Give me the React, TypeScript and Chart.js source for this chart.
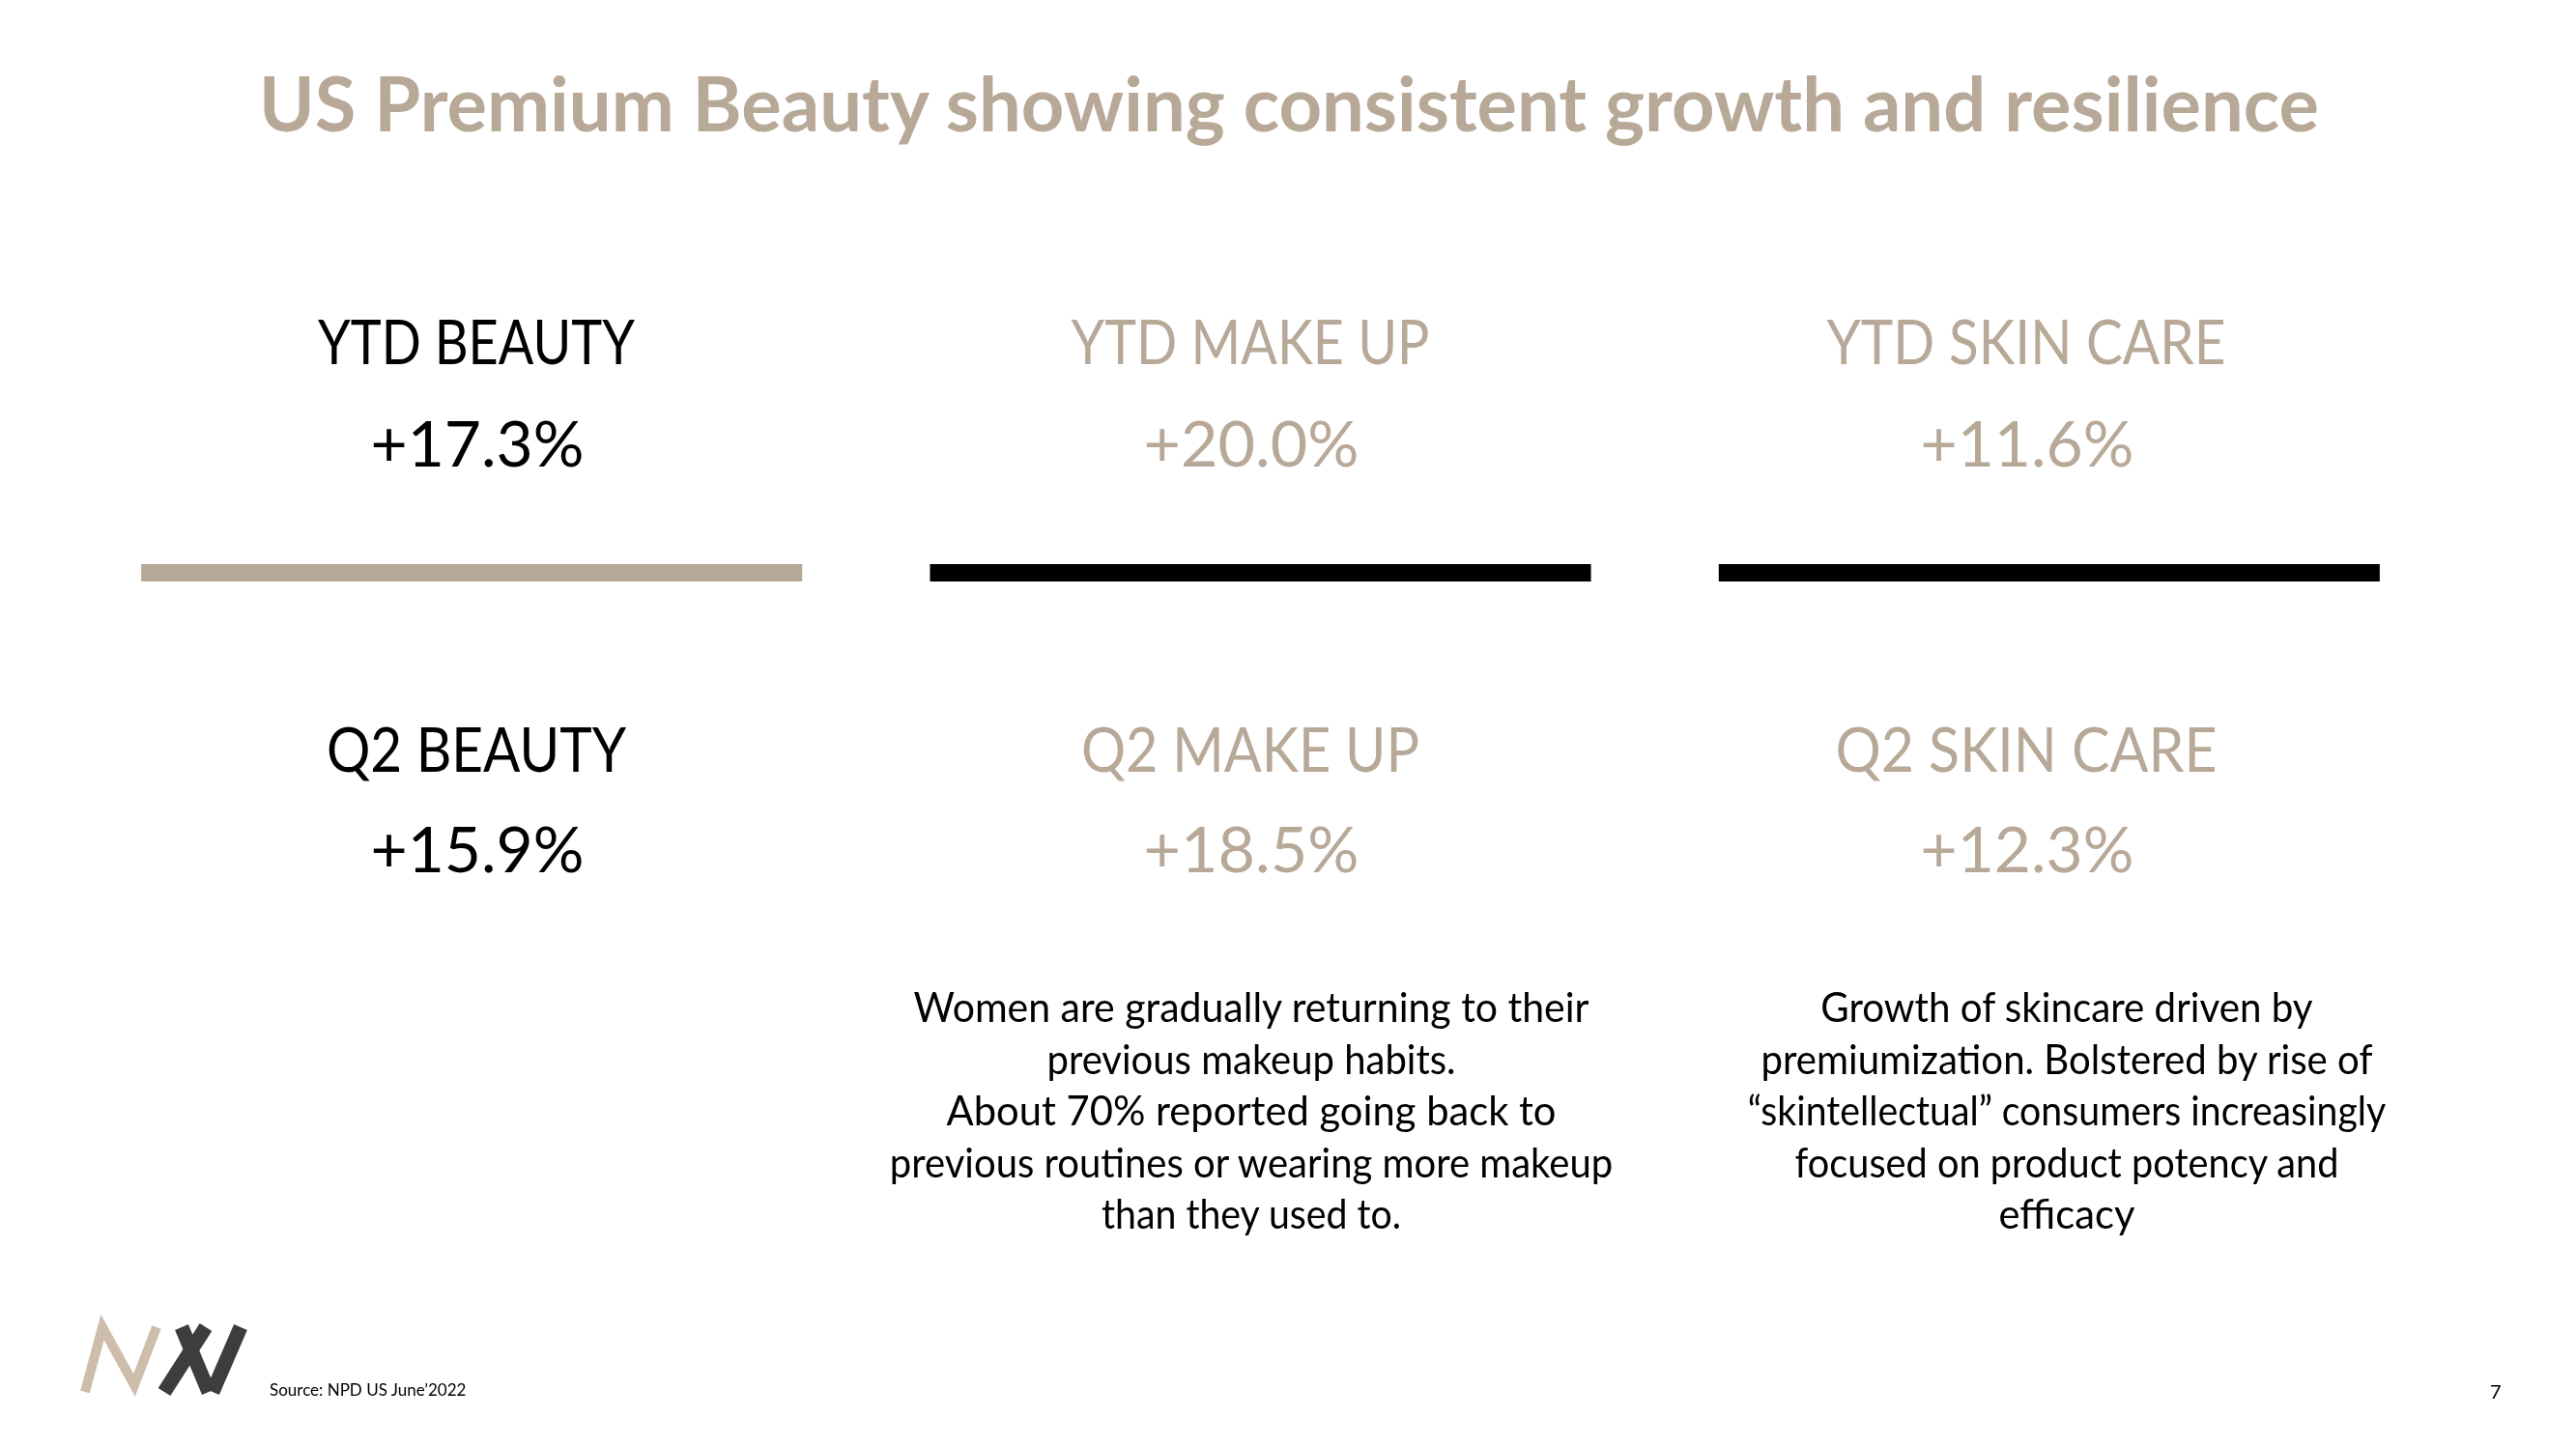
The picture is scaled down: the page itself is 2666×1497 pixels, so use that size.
import React, { useEffect, useRef } from "react";
import { Chart, registerables } from "chart.js";

Chart.register(...registerables);

// ---------- DATA ----------
const TITLE = "US Premium Beauty showing consistent growth and resilience";
const SEGMENTS = ["BEAUTY", "MAKE UP", "SKIN CARE"];
const YTD_LABELS = ["YTD BEAUTY", "YTD MAKE UP", "YTD SKIN CARE"];
const YTD_GROWTH = [17.3, 20.0, 11.6];
const Q2_LABELS = ["Q2 BEAUTY", "Q2 MAKE UP", "Q2 SKIN CARE"];
const Q2_GROWTH = [15.9, 18.5, 12.3];
const SEPARATOR_VALUES = [1, 1, 1];
const MAKEUP_NOTE = [
  "Women are gradually returning to their",
  "previous makeup habits.",
  "About 70% reported going back to",
  "previous routines or wearing more makeup",
  "than they used to.",
];
const SKINCARE_NOTE = [
  "Growth of skincare driven by",
  "premiumization. Bolstered by rise of",
  "\u201Cskintellectual\u201D consumers increasingly",
  "focused on product potency and",
  "efficacy",
];
const SOURCE = "Source: NPD US June\u20192022";
const PAGE = "7";

// ---------- STYLE / LAYOUT ----------
const BEIGE = "#B8A898";
const BLACK = "#000000";
const FONT = "Lato";
const SEPARATOR_COLORS = [BEIGE, BLACK, BLACK];
const COL_CX = [493, 1294, 2097];
const YTD_LABEL_W = [328, 371, 413];
const Q2_LABEL_W = [310, 350, 395];
const VALUE_W = [221, 223, 221];
const LABEL_COLORS = [BLACK, BEIGE, BEIGE];
const MAKEUP_W = [700, 423, 631, 750, 311];
const SKIN_W = [510, 634, 661, 564, 141];
const NOTE_BASES = [1058, 1112, 1165, 1219, 1272];

const fmt = (v: number) => `+${v.toFixed(1)}%`;

let mctx: CanvasRenderingContext2D | null = null;
function measure(text: string, fs: number, weight: number) {
  if (!mctx) mctx = document.createElement("canvas").getContext("2d");
  const c = mctx as CanvasRenderingContext2D;
  c.font = `${weight} ${fs}px ${FONT}`;
  const m = c.measureText(text);
  const asc = (m as any).fontBoundingBoxAscent ?? fs * 0.987;
  const desc = (m as any).fontBoundingBoxDescent ?? fs * 0.213;
  return { w: m.width, asc, desc };
}

function Line(props: {
  text: string;
  cx: number;
  base: number;
  fs: number;
  weight?: number;
  color: string;
  w?: number;
}) {
  const { text, cx, base, fs, color, w } = props;
  const weight = props.weight ?? 400;
  const m = measure(text, fs, weight);
  const s = w ? w / m.w : 1;
  const h = m.asc + m.desc;
  return (
    <div
      style={{
        position: "absolute",
        left: cx - 2000,
        width: 4000,
        top: base - m.asc,
        height: h,
        lineHeight: `${h}px`,
        textAlign: "center",
        fontFamily: FONT,
        fontSize: fs,
        fontWeight: weight,
        color,
        whiteSpace: "pre",
        transform: `scaleX(${s})`,
        transformOrigin: "50% 50%",
        zIndex: 2,
      }}
    >
      {text}
    </div>
  );
}

function Logo() {
  return (
    <svg
      style={{ position: "absolute", left: 0, top: 0, zIndex: 2 }}
      width={300}
      height={1497}
      viewBox="0 0 300 1497"
    >
      <polyline
        points="88,1441 106,1374 139,1434 162,1374"
        fill="none"
        stroke="#CDBDAA"
        strokeWidth={10}
        strokeLinejoin="miter"
      />
      <g stroke="#3D3D3B" strokeWidth={15} strokeLinecap="butt">
        <line x1={188} y1={1374} x2={216} y2={1441} />
        <line x1={213} y1={1374} x2={170} y2={1441} />
        <line x1={249} y1={1374} x2={220} y2={1441} />
      </g>
    </svg>
  );
}

export default function App() {
  const ref = useRef<HTMLCanvasElement | null>(null);

  useEffect(() => {
    if (!ref.current) return;
    const chart = new Chart(ref.current, {
      type: "bar",
      data: {
        labels: SEGMENTS,
        datasets: [
          {
            data: SEPARATOR_VALUES,
            backgroundColor: SEPARATOR_COLORS,
            borderWidth: 0,
            barPercentage: 0.838,
            categoryPercentage: 1,
          },
        ],
      },
      options: {
        responsive: false,
        animation: false,
        events: [],
        layout: { padding: { left: 80, right: 137, top: 584, bottom: 895 } },
        scales: {
          x: { display: false },
          y: { display: false, min: 0, max: 1 },
        },
        plugins: {
          legend: { display: false },
          tooltip: { enabled: false },
          title: { display: false },
        },
      },
    });
    return () => chart.destroy();
  }, []);

  return (
    <div
      style={{
        position: "fixed",
        left: 0,
        top: 0,
        width: 2666,
        height: 1497,
        background: "#ffffff",
        overflow: "hidden",
      }}
    >
      <canvas
        ref={ref}
        width={2666}
        height={1497}
        style={{ position: "absolute", left: 0, top: 0, display: "block", zIndex: 1 }}
      />
      <Line text={TITLE} cx={1334} base={136} fs={78} weight={700} color={BEIGE} w={2134} />
      {YTD_LABELS.map((t, i) => (
        <Line key={"yl" + i} text={t} cx={COL_CX[i]} base={377} fs={64} color={LABEL_COLORS[i]} w={YTD_LABEL_W[i]} />
      ))}
      {YTD_GROWTH.map((v, i) => (
        <Line key={"yv" + i} text={fmt(v)} cx={COL_CX[i] + 1} base={483} fs={66} color={LABEL_COLORS[i]} w={VALUE_W[i]} />
      ))}
      {Q2_LABELS.map((t, i) => (
        <Line key={"ql" + i} text={t} cx={COL_CX[i]} base={799} fs={64} color={LABEL_COLORS[i]} w={Q2_LABEL_W[i]} />
      ))}
      {Q2_GROWTH.map((v, i) => (
        <Line key={"qv" + i} text={fmt(v)} cx={COL_CX[i] + 1} base={903} fs={66} color={LABEL_COLORS[i]} w={VALUE_W[i]} />
      ))}
      {MAKEUP_NOTE.map((t, i) => (
        <Line key={"mn" + i} text={t} cx={1295} base={NOTE_BASES[i]} fs={43} color={BLACK} w={MAKEUP_W[i]} />
      ))}
      {SKINCARE_NOTE.map((t, i) => (
        <Line key={"sn" + i} text={t} cx={2139} base={NOTE_BASES[i]} fs={43} color={BLACK} w={SKIN_W[i]} />
      ))}
      <div
        style={{
          position: "absolute",
          left: 279,
          top: 1430,
          fontFamily: FONT,
          fontSize: 17,
          lineHeight: "17px",
          color: "#000",
          whiteSpace: "pre",
          zIndex: 2,
        }}
      >
        {SOURCE}
      </div>
      <div
        style={{
          position: "absolute",
          left: 2577,
          top: 1430,
          fontFamily: FONT,
          fontSize: 20,
          lineHeight: "20px",
          color: "#000",
          zIndex: 2,
        }}
      >
        {PAGE}
      </div>
      <Logo />
    </div>
  );
}
